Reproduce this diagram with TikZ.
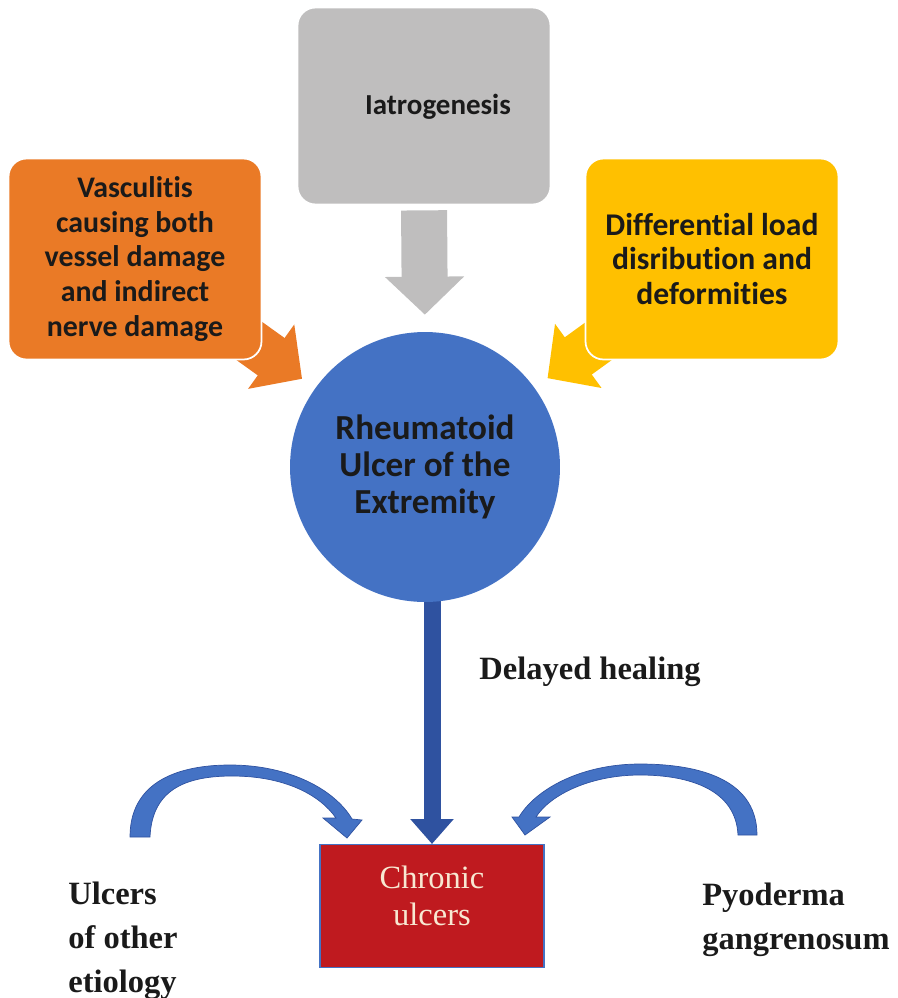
\documentclass[tikz,border=0pt]{standalone}
\usepackage{fontspec}
\setmainfont{Liberation Serif}
\newfontfamily\calib[Ligatures=NoCommon]{Carlito}
\usetikzlibrary{arrows.meta,backgrounds}

\definecolor{boxgrey}{HTML}{BFBEBE}
\definecolor{boxorange}{HTML}{EA7A26}
\definecolor{boxyellow}{HTML}{FFC000}
\definecolor{circblue}{HTML}{4472C4}
\definecolor{darkblue}{HTML}{2F52A0}
\definecolor{boxred}{HTML}{BF1A1F}
\definecolor{textdark}{HTML}{1A1A1A}
\definecolor{cream}{HTML}{F8E8D2}

\tikzset{
  box/.style={rectangle, rounded corners=0.36cm, draw=white, line width=1pt,
    minimum width=5.06cm, minimum height=4.02cm, align=center,
    text=textdark, inner sep=0pt},
  blockarrow/.style={line width=0.92cm, -{Triangle[width=1.54cm,length=0.76cm]}},
  serifbold/.style={font=\fontsize{18.5pt}{25pt}\selectfont\bfseries, inner sep=0pt, align=left}
}

\begin{document}
\begin{tikzpicture}[x=0.02cm, y=-0.02cm]
\useasboundingbox (0,0) rectangle (898,998);

\node (iatro) at (424,106) [box, fill=boxgrey, minimum height=3.94cm] {};
\node (iatrotext) at (438,107) [text=textdark, inner sep=0pt,
  font=\calib\bfseries\fontsize{16.5pt}{19.8pt}\selectfont] {Iatrogenesis};
\node (vasc) at (135,259) [box, fill=boxorange,
  font=\calib\bfseries\fontsize{17pt}{19.8pt}\selectfont]
  {Vasculitis\\causing both\\vessel damage\\and indirect\\nerve damage};
\node (load) at (712,259) [box, fill=boxyellow,
  font=\calib\bfseries\fontsize{18pt}{19.8pt}\selectfont]
  {Differential load\\disribution and\\deformities};
\node (rheum) at (425,467) [circle, fill=circblue, minimum size=5.4cm, inner sep=0pt,
  align=center, text=textdark, font=\calib\bfseries\fontsize{20pt}{21.3pt}\selectfont]
  {Rheumatoid\\Ulcer of the\\Extremity};
\node (chronic) at (432,906) [rectangle, fill=boxred, draw=circblue, line width=0.6pt,
  minimum width=4.48cm, minimum height=2.46cm] {};
\node (chronictext) at (432,896) [text=cream, align=center, inner sep=0pt,
  font=\fontsize{18.5pt}{21pt}\selectfont] {Chronic\\ulcers};

\node (delayed) at (590,672) [serifbold, text=textdark] {Delayed healing};
\node (other) at (68,941) [serifbold, anchor=west, text=textdark] {Ulcers\\of other\\etiology};
\node (pyo) at (702,920) [serifbold, anchor=west, text=textdark] {Pyoderma\\gangrenosum};

\begin{scope}[on background layer]
\draw[blockarrow, boxgrey, shorten <=0.1cm, shorten >=0.34cm] (iatro.south) -- (rheum.north);
\draw[blockarrow, boxorange, shorten >=0.32cm] (vasc.center) -- (rheum);
\draw[blockarrow, boxyellow, shorten >=0.32cm] (load.center) -- (rheum);
\draw[darkblue, line width=0.34cm, -{Triangle[width=0.84cm,length=0.5cm]}]
  (rheum.center -| chronic.north) -- (chronic.north);
\end{scope}

% curved arrows into the chronic ulcers box
\filldraw[fill=circblue, draw=darkblue, line width=0.4pt]
  (130,837) .. controls (130,775) and (190,765) .. (230,765)
  .. controls (290,765) and (335,790) .. (352,819) -- (362,820) -- (347,838) -- (323,818) -- (336,818)
  .. controls (320,795) and (285,776) .. (232,776)
  .. controls (185,776) and (152,790) .. (150,837) -- cycle;
\filldraw[fill=circblue, draw=darkblue, line width=0.4pt]
  (757,835) .. controls (757,775) and (690,764) .. (640,764)
  .. controls (580,764) and (535,790) .. (519,817) -- (512,817) -- (525,835) -- (550,817) -- (536,817)
  .. controls (550,795) and (590,775) .. (640,775)
  .. controls (690,775) and (736,790) .. (738,835) -- cycle;
\end{tikzpicture}
\end{document}
